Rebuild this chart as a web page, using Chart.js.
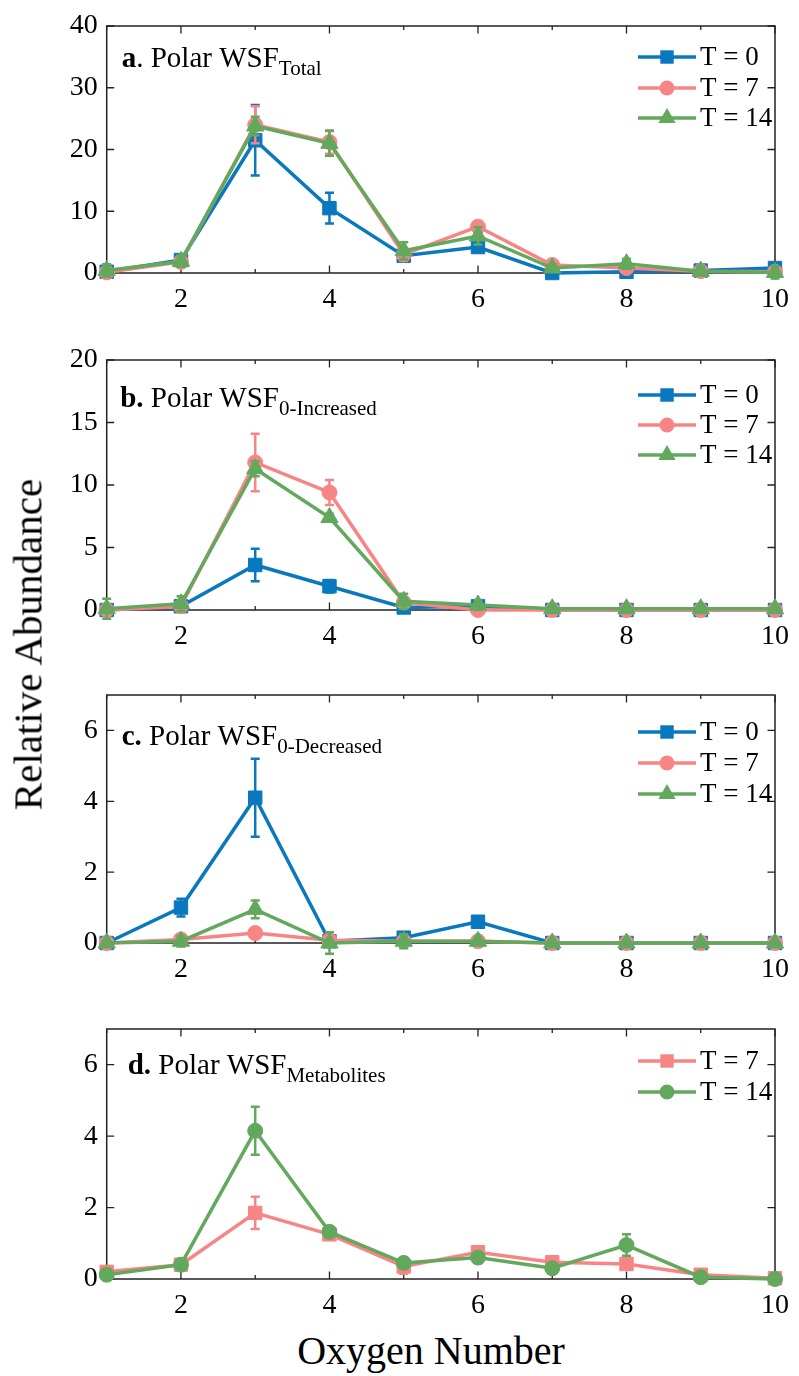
<!DOCTYPE html>
<html>
<head>
<meta charset="utf-8">
<script src="https://cdn.jsdelivr.net/npm/chart.js@4.4.1/dist/chart.umd.min.js"></script>
<style>
  body { margin: 0; background: #fff; }
  #wrap { position: relative; width: 799px; height: 1376px; overflow: hidden; background: #fff; }
  #wrap canvas { position: absolute; left: 0; }
  .axis-title { position: absolute; font-family: 'Liberation Serif', 'Times New Roman', serif; line-height: 1; color: #000; text-align: center; white-space: nowrap; }
</style>
</head>
<body>
<div id="wrap">
  <canvas id="panelA" width="799" height="330" style="top:0px"></canvas>
  <canvas id="panelB" width="799" height="330" style="top:330px"></canvas>
  <canvas id="panelC" width="799" height="335" style="top:660px"></canvas>
  <canvas id="panelD" width="799" height="330" style="top:995px"></canvas>
  <div class="axis-title" id="yTitle" style="left:-171.8px; top:623.5px; width:400px; height:41px; font-size:41px; transform:rotate(-90deg);">Relative Abundance</div>
  <div class="axis-title" id="xTitle" style="left:231px; top:1331px; width:400px; font-size:40px;">Oxygen Number</div>
</div>
<script>
// x categories (oxygen number)
const oxygenNumbers = [1, 2, 3, 4, 5, 6, 7, 8, 9, 10];
const xTickValues = [1, 2, 3, 4, 5, 6, 7, 8, 9, 10];

// a. Polar WSF Total
const totalT0 = [0.2, 2.1, 21.5, 10.5, 2.8, 4.2, 0.0, 0.2, 0.4, 0.8];
const totalT0Err = [0.3, 0.6, 5.7, 2.5, 0.7, 0.6, 0.2, 0.3, 0.3, 0.4];
const totalT7 = [0.1, 1.8, 24.0, 21.2, 3.0, 7.5, 1.3, 0.8, 0.3, 0.2];
const totalT7Err = [0.6, 0.8, 3.0, 1.9, 1.0, 0.8, 0.5, 0.6, 0.5, 0.3];
const totalT14 = [0.4, 1.9, 23.8, 21.0, 3.6, 6.0, 0.8, 1.5, 0.3, 0.1];
const totalT14Err = [1.0, 0.9, 1.5, 2.0, 1.4, 1.4, 0.6, 0.8, 0.7, 1.0];

// b. Polar WSF 0-Increased
const incT0 = [0.0, 0.3, 3.6, 1.9, 0.2, 0.3, 0.0, 0.0, 0.0, 0.0];
const incT0Err = [0.1, 0.2, 1.3, 0.5, 0.2, 0.2, 0.05, 0.05, 0.05, 0.05];
const incT7 = [0.0, 0.3, 11.8, 9.4, 0.6, 0.0, 0.0, 0.0, 0.0, 0.0];
const incT7Err = [0.2, 0.3, 2.3, 1.0, 0.3, 0.1, 0.0, 0.0, 0.0, 0.0];
const incT14 = [0.1, 0.5, 11.3, 7.4, 0.7, 0.4, 0.1, 0.1, 0.1, 0.1];
const incT14Err = [0.8, 0.6, 0.6, 0.3, 0.6, 0.4, 0.2, 0.2, 0.2, 0.2];

// c. Polar WSF 0-Decreased
const decT0 = [0.0, 1.0, 4.1, 0.05, 0.15, 0.6, 0.0, 0.0, 0.0, 0.0];
const decT0Err = [0.05, 0.25, 1.1, 0.1, 0.1, 0.1, 0.02, 0.02, 0.02, 0.02];
const decT7 = [0.0, 0.1, 0.28, 0.08, 0.05, 0.05, 0.0, 0.0, 0.0, 0.0];
const decT7Err = [0.05, 0.1, 0.12, 0.05, 0.1, 0.15, 0.05, 0.05, 0.05, 0.05];
const decT14 = [0.0, 0.05, 0.95, 0.0, 0.05, 0.05, 0.0, 0.0, 0.0, 0.0];
const decT14Err = [0.05, 0.15, 0.25, 0.3, 0.2, 0.1, 0.05, 0.05, 0.05, 0.05];

// d. Polar WSF Metabolites
const metT7 = [0.2, 0.4, 1.85, 1.25, 0.35, 0.75, 0.47, 0.42, 0.12, 0.02];
const metT7Err = [0.1, 0.1, 0.45, 0.1, 0.2, 0.15, 0.1, 0.1, 0.1, 0.05];
const metT14 = [0.12, 0.4, 4.15, 1.32, 0.45, 0.6, 0.3, 0.95, 0.05, 0.0];
const metT14Err = [0.15, 0.1, 0.67, 0.1, 0.1, 0.15, 0.15, 0.3, 0.1, 0.05];

// y tick values (major + minor)
const yTicksA = [0, 5, 10, 15, 20, 25, 30, 35, 40];
const yTicksB = [0, 2.5, 5, 7.5, 10, 12.5, 15, 17.5, 20];
const yTicksC = [0, 1, 2, 3, 4, 5, 6, 7];
const yTicksD = [0, 1, 2, 3, 4, 5, 6, 7];

const BLUE = "#0a78bf";
const PINK = "#f88585";
const GREEN = "#62a85d";
const FONT = "'Liberation Serif', 'Times New Roman', serif";

Chart.defaults.font.family = FONT;
Chart.defaults.color = "#000";

function series(label, values, errors, color, style, radius, order) {
    return {
        label: label,
        data: oxygenNumbers.map((x, i) => ({ x: x, y: values[i] })),
        errors: errors,
        borderColor: color,
        backgroundColor: color,
        borderWidth: 3.5,
        pointStyle: style,
        pointRadius: radius,
        pointHoverRadius: radius,
        pointBackgroundColor: color,
        pointBorderColor: color,
        pointBorderWidth: 1,
        tension: 0,
        clip: false,
        order: order
    };
}

function markerPath(ctx, style, x, y, r) {
    ctx.beginPath();
    if (style === "rect") {
        const s = Math.SQRT1_2 * r;
        ctx.rect(x - s, y - s, 2 * s, 2 * s);
    } else if (style === "circle") {
        ctx.arc(x, y, r, 0, Math.PI * 2);
    } else {
        let rad = 0;
        ctx.moveTo(x + Math.sin(rad) * r, y - Math.cos(rad) * r);
        rad += Math.PI * 2 / 3;
        ctx.lineTo(x + Math.sin(rad) * r, y - Math.cos(rad) * r);
        rad += Math.PI * 2 / 3;
        ctx.lineTo(x + Math.sin(rad) * r, y - Math.cos(rad) * r);
        ctx.closePath();
    }
}

// frame, ticks, error bars, title and legend
function makeDecor(panel) {
    return {
        id: "decor" + panel.id,
        beforeDatasetsDraw(chart) {
            const ctx = chart.ctx;
            const a = chart.chartArea;
            const xs = chart.scales.x, ys = chart.scales.y;
            ctx.save();
            ctx.strokeStyle = "#222";
            ctx.lineWidth = 1.5;
            ctx.strokeRect(a.left, a.top, a.right - a.left, a.bottom - a.top);
            ctx.lineWidth = 1.3;
            ctx.beginPath();
            ys.ticks.forEach(t => {
                const p = ys.getPixelForValue(t.value);
                const len = (t.value % panel.yMajor === 0) ? 7.5 : 4;
                ctx.moveTo(a.left, p); ctx.lineTo(a.left + len, p);
                ctx.moveTo(a.right, p); ctx.lineTo(a.right - len, p);
            });
            xs.ticks.forEach(t => {
                const p = xs.getPixelForValue(t.value);
                const len = (t.value % 2 === 0) ? 7.5 : 4;
                ctx.moveTo(p, a.bottom); ctx.lineTo(p, a.bottom - len);
                ctx.moveTo(p, a.top); ctx.lineTo(p, a.top + len);
            });
            ctx.stroke();

            // panel title
            let x = a.left + panel.titleX;
            const base = a.top + panel.titleBase;
            ctx.fillStyle = "#000";
            ctx.textBaseline = "alphabetic";
            ctx.textAlign = "left";
            ctx.font = "bold 29px " + FONT;
            ctx.fillText(panel.title[0], x, base);
            x += ctx.measureText(panel.title[0]).width;
            ctx.font = "29px " + FONT;
            ctx.fillText(panel.title[1], x, base);
            x += ctx.measureText(panel.title[1]).width;
            ctx.font = "21px " + FONT;
            ctx.fillText(panel.title[2], x, base + 8);

            // legend
            panel.legendRows.forEach((off, k) => {
                const ds = chart.data.datasets[k];
                const y = a.top + off;
                ctx.strokeStyle = ds.borderColor;
                ctx.lineWidth = 3.5;
                ctx.beginPath();
                ctx.moveTo(a.right - 137, y);
                ctx.lineTo(a.right - 79, y);
                ctx.stroke();
                ctx.fillStyle = ds.borderColor;
                markerPath(ctx, ds.pointStyle, a.right - 108, y, ds.pointRadius);
                ctx.fill();
                ctx.fillStyle = "#000";
                ctx.font = "27px " + FONT;
                ctx.textBaseline = "middle";
                ctx.fillText(ds.label, a.right - 75, y + 1);
            });
            ctx.restore();
        },
        afterDatasetDraw(chart, args) {
            const ds = chart.data.datasets[args.index];
            const ys = chart.scales.y;
            const ctx = chart.ctx;
            ctx.save();
            ctx.strokeStyle = ds.borderColor;
            ctx.lineWidth = 2.5;
            ctx.beginPath();
            args.meta.data.forEach((pt, i) => {
                const v = ds.data[i].y, e = ds.errors[i];
                if (!e) return;
                const top = ys.getPixelForValue(v + e);
                const bot = ys.getPixelForValue(v - e);
                ctx.moveTo(pt.x, top); ctx.lineTo(pt.x, bot);
                ctx.moveTo(pt.x - 4.5, top); ctx.lineTo(pt.x + 4.5, top);
                ctx.moveTo(pt.x - 4.5, bot); ctx.lineTo(pt.x + 4.5, bot);
            });
            ctx.stroke();
            ctx.restore();
        }
    };
}

function buildPanel(panel) {
    const canvas = document.getElementById(panel.canvas);
    const H = canvas.height;
    new Chart(canvas.getContext("2d"), {
        type: "line",
        data: { datasets: panel.datasets },
        options: {
            responsive: false,
            animation: false,
            events: [],
            layout: { padding: { top: panel.plotTop, right: 15, left: 0, bottom: 0 } },
            plugins: { legend: { display: false }, tooltip: { enabled: false } },
            scales: {
                x: {
                    type: "linear",
                    min: 1,
                    max: 10,
                    grid: { display: false, drawTicks: false },
                    border: { display: false },
                    afterBuildTicks: s => { s.ticks = xTickValues.map(v => ({ value: v })); },
                    afterFit: s => { s.height = H - panel.plotBottom; },
                    ticks: {
                        autoSkip: false,
                        maxRotation: 0,
                        padding: 10,
                        font: { size: 28 },
                        callback: v => (v % 2 === 0 ? String(v) : "")
                    }
                },
                y: {
                    type: "linear",
                    min: 0,
                    max: panel.yMax,
                    grid: { display: false, drawTicks: false },
                    border: { display: false },
                    afterBuildTicks: s => { s.ticks = panel.yTicks.map(v => ({ value: v })); },
                    afterFit: s => { s.width = 106.7; },
                    ticks: {
                        padding: 9,
                        font: { size: 28 },
                        callback: v => (v % panel.yMajor === 0 ? String(v) : "")
                    }
                }
            }
        },
        plugins: [makeDecor(panel)]
    });
}

const panels = [
    {
        id: "a", canvas: "panelA", plotTop: 26, plotBottom: 273, yMax: 40, yTicks: yTicksA, yMajor: 10,
        title: ["a", ". Polar WSF", "Total"], titleX: 15, titleBase: 41, legendRows: [31, 62, 92],
        datasets: [
            series("T = 0", totalT0, totalT0Err, BLUE, "rect", 9.5, 3),
            series("T = 7", totalT7, totalT7Err, PINK, "circle", 7.5, 2),
            series("T = 14", totalT14, totalT14Err, GREEN, "triangle", 10, 1)
        ]
    },
    {
        id: "b", canvas: "panelB", plotTop: 30, plotBottom: 280, yMax: 20, yTicks: yTicksB, yMajor: 5,
        title: ["b.", " Polar WSF", "0-Increased"], titleX: 13.5, titleBase: 47, legendRows: [35, 65, 95],
        datasets: [
            series("T = 0", incT0, incT0Err, BLUE, "rect", 9.5, 3),
            series("T = 7", incT7, incT7Err, PINK, "circle", 7.5, 2),
            series("T = 14", incT14, incT14Err, GREEN, "triangle", 10, 1)
        ]
    },
    {
        id: "c", canvas: "panelC", plotTop: 35, plotBottom: 283, yMax: 7, yTicks: yTicksC, yMajor: 2,
        title: ["c.", " Polar WSF", "0-Decreased"], titleX: 15, titleBase: 50, legendRows: [37, 68, 99],
        datasets: [
            series("T = 0", decT0, decT0Err, BLUE, "rect", 9.5, 3),
            series("T = 7", decT7, decT7Err, PINK, "circle", 7.5, 2),
            series("T = 14", decT14, decT14Err, GREEN, "triangle", 10, 1)
        ]
    },
    {
        id: "d", canvas: "panelD", plotTop: 34, plotBottom: 284, yMax: 7, yTicks: yTicksD, yMajor: 2,
        title: ["d.", " Polar WSF", "Metabolites"], titleX: 21, titleBase: 45, legendRows: [32, 63],
        datasets: [
            series("T = 7", metT7, metT7Err, PINK, "rect", 9.5, 2),
            series("T = 14", metT14, metT14Err, GREEN, "circle", 7.5, 1)
        ]
    }
];

panels.forEach(buildPanel);
</script>
</body>
</html>
